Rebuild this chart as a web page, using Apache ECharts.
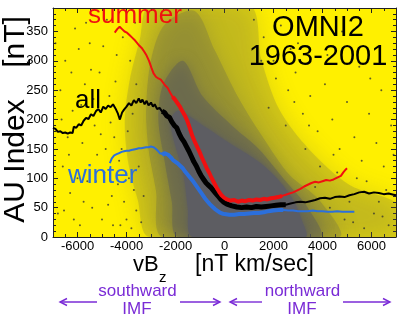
<!DOCTYPE html>
<html>
<head>
<meta charset="utf-8">
<script src="https://cdn.jsdelivr.net/npm/echarts@6/dist/echarts.min.js"></script>
<style>
  html, body { margin: 0; padding: 0; background: #fff; }
  #chart { width: 400px; height: 324px; }
</style>
</head>
<body>
<div id="chart"></div>
<script>
// AU index vs vBz
const summerLine = [[-4480,348],[-4380,354],[-4280,358],[-4180,354],[-4080,350],[-3980,348],[-3880,344],[-3780,340],[-3680,336],[-3580,331],[-3480,326],[-3380,322],[-3280,316],[-3180,309],[-3080,300],[-2980,288],[-2900,279],[-2800,273],[-2700,270],[-2600,268],[-2520,266],[-2420,258],[-2320,254],[-2220,246],[-2120,239],[-2020,234],[-1920,228],[-1820,222],[-1720,214],[-1620,207],[-1520,198],[-1420,186],[-1320,173],[-1220,163],[-1120,154],[-1020,145],[-920,135],[-820,126],[-720,117],[-620,109],[-520,100],[-420,92],[-320,84],[-220,77],[-120,71],[-20,67],[100,64],[250,62],[400,63],[550,60],[700,62],[850,61],[1000,63],[1150,62],[1300,64],[1450,63],[1600,65],[1750,64],[1900,66],[2050,67],[2200,68],[2350,70],[2500,72],[2650,74],[2800,76],[2950,79],[3100,82],[3250,86],[3400,89],[3550,92],[3700,94],[3850,93],[4000,95],[4150,97],[4300,96],[4450,98],[4600,101],[4750,104],[4850,110],[4950,115],[5000,117]];

const allLine = [[-7000,186],[-6900,184],[-6800,179],[-6700,180],[-6600,177],[-6500,178],[-6400,176],[-6300,178],[-6200,177],[-6150,188],[-6050,186],[-5950,192],[-5850,190],[-5750,198],[-5650,203],[-5550,201],[-5450,209],[-5350,206],[-5250,214],[-5150,218],[-5050,212],[-4950,222],[-4850,218],[-4750,224],[-4650,221],[-4550,226],[-4450,219],[-4350,210],[-4270,200],[-4180,212],[-4100,217],[-4000,222],[-3900,228],[-3800,224],[-3700,233],[-3600,228],[-3500,236],[-3420,229],[-3350,234],[-3260,226],[-3180,232],[-3100,224],[-3000,229],[-2920,222],[-2850,226],[-2750,218],[-2650,220],[-2550,214],[-2450,212],[-2350,206],[-2250,204],[-2150,196],[-2050,190],[-1950,186],[-1850,176],[-1750,168],[-1650,162],[-1550,154],[-1450,146],[-1350,137],[-1250,128],[-1150,121],[-1050,112],[-950,104],[-850,98],[-750,92],[-650,88],[-550,84],[-450,79],[-350,74],[-250,69],[-150,64],[-50,60],[100,56],[300,53],[500,51],[700,50],[900,51],[1100,50],[1300,52],[1500,51],[1700,52],[1900,53],[2100,54],[2300,55],[2500,55],[2700,57],[2900,59],[3100,60],[3300,59],[3500,61],[3700,63],[3900,66],[4100,67],[4300,65],[4500,68],[4700,69],[4900,68],[5100,71],[5300,73],[5500,76],[5700,77],[5900,74],[6100,76],[6300,75],[6500,73],[6700,74],[6900,72],[7000,71]];

const winterLine = [[-4680,126],[-4600,134],[-4500,139],[-4400,141],[-4300,143],[-4200,145],[-4100,146],[-4000,147],[-3900,147],[-3800,148],[-3700,149],[-3600,150],[-3500,151],[-3400,151],[-3300,152],[-3200,153],[-3100,153],[-3000,154],[-2900,153],[-2800,150],[-2700,146],[-2620,142],[-2540,139],[-2460,143],[-2380,141],[-2300,140],[-2200,136],[-2100,131],[-2000,128],[-1900,125],[-1800,121],[-1700,117],[-1600,111],[-1500,106],[-1400,101],[-1300,96],[-1200,90],[-1100,84],[-1000,78],[-900,72],[-800,66],[-700,61],[-600,56],[-500,52],[-400,48],[-300,45],[-200,42],[-100,40],[0,39],[200,38],[400,38],[600,39],[800,39],[1000,40],[1200,41],[1400,41],[1600,42],[1800,44],[2000,45],[2200,46],[2400,46],[2600,45],[2800,45],[3000,44],[3200,44],[3400,44],[3600,45],[3800,44],[4000,44],[4200,43],[4400,43],[4600,44],[4800,43],[5000,43],[5300,43]];

// outline of the point cloud, from the faint haze to the solid core
const cloudOuter = [[-3052,0],[-3541,63],[-3948,131],[-4070,200],[-3866,268],[-3460,336],[-3052,395],[1018,395],[1506,302],[2239,217],[3460,149],[5088,89],[7100,55],[7100,0]];
const cloudMiddle = [[-2520,0],[-2800,80],[-3100,149],[-3200,217],[-3000,302],[-2442,362],[-1221,385],[-407,319],[611,234],[1628,166],[2646,106],[3866,63],[4680,0]];
const cloudInner = [[-1900,0],[-2150,60],[-2450,130],[-2700,200],[-2500,260],[-1700,300],[-900,240],[300,190],[1400,150],[2500,95],[3400,50],[3900,0]];
const cloudCore = [[-1300,0],[-1500,50],[-1650,100],[-1900,140],[-2100,170],[-2200,200],[-1900,215],[-1400,205],[-700,185],[200,160],[1400,128],[2200,97],[2800,63],[3150,29],[3300,0]];

// loose single points on the yellow
const loosePoints = [[-6800,40],[-6600,120],[-6500,300],[-6300,75],[-6200,215],[-6100,355],[-5900,20],[-5800,160],[-5700,260],[-5600,95],[-5500,330],[-5400,50],[-5300,190],[-5200,140],[-5100,280],[-5000,30],[-4900,110],[-4800,370],[-4700,240],[-4600,70],[-4500,170],[-4400,310],[-4300,130],[-4250,20],[-6700,250],[-6400,170],[-6000,100],[-5650,365],[-5350,235],[-5050,175],[-4750,55],[-4450,265],[-6900,330],[-6150,30],[-5450,285],[-4950,325],[-4650,195],[-4350,90],[-5750,60],[-6350,140],[-4100,60],[-4000,30],[-3900,100],[-3800,15],[-3700,80],[-3600,45],[-3500,120],[-3400,25],[-3300,70],[-4200,150],[-3950,180],[-3750,210],[-3850,300],[-3650,365],[-3600,260],[-4150,340],[-6550,45],[-6250,280],[-5850,225],[-5250,95],[-4850,150],[-4550,20],[-6650,200],[-5950,320],[1200,370],[1600,340],[2000,300],[2300,360],[2600,250],[2900,280],[3200,210],[3500,240],[3800,180],[4100,260],[4400,200],[4700,150],[5000,230],[5300,170],[5600,130],[5900,210],[6200,160],[6500,120],[6800,190],[3000,330],[4200,310],[5500,290],[6400,250],[1800,220],[2500,190],[3300,150],[4600,110],[5800,95],[6600,80],[3900,120],[5100,60],[6100,40],[6700,20],[5700,15],[4900,30],[4300,50],[3700,85],[6300,60],[5400,100],[2100,270],[2700,320],[1500,300],[6900,140],[4800,350],[3600,370],[4450,140],[5250,25],[6450,35],[3450,190],[2850,230],[5950,270]];

const FONT = '"Liberation Sans", Arial, Helvetica, sans-serif';
const chart = echarts.init(document.getElementById('chart'));

const polygonSeries = (pts, fill, opacity, blur) => ({
  type: 'custom',
  data: [0],
  silent: true,
  clip: true,
  renderItem: (params, api) => ({
    type: 'polygon',
    shape: { points: pts.map((p) => api.coord(p)), smooth: 0.3 },
    style: { fill: fill, opacity: opacity, shadowBlur: blur, shadowColor: fill },
  }),
});

const lineSeries = (data, color, width) => ({
  type: 'line',
  data: data,
  showSymbol: false,
  silent: true,
  lineStyle: { color: color, width: width },
});

const between = (data, a, b) => data.filter((p) => p[0] >= a && p[0] <= b);

const axisBase = {
  type: 'value',
  axisLine: { show: true, onZero: false, lineStyle: { color: '#222', width: 1 } },
  axisTick: { show: true, inside: true, length: 5, lineStyle: { color: '#222' } },
  minorTick: { show: true, length: 3, lineStyle: { color: '#222' } },
  splitLine: { show: false },
  minorSplitLine: { show: false },
};

const text = (str, x, y, size, color, align, rot) => ({
  type: 'text',
  x: x,
  y: y,
  rotation: rot || 0,
  style: {
    text: str,
    font: size + 'px ' + FONT,
    fill: color,
    textAlign: align || 'left',
    textVerticalAlign: 'middle',
  },
  z: 100,
});

const PURPLE = '#7a2bd6';
const arrow = (x1, x2, y) => {
  const d = x2 > x1 ? -7 : 7;
  return [
    { type: 'line', shape: { x1: x1, y1: y, x2: x2, y2: y }, style: { stroke: PURPLE, lineWidth: 1.4 } },
    { type: 'polyline', shape: { points: [[x2 + d, y - 3.5], [x2, y], [x2 + d, y + 3.5]] }, style: { stroke: PURPLE, lineWidth: 1.4, fill: null } },
  ];
};

chart.setOption({
  animation: false,
  grid: { left: 53, right: 4, top: 8, bottom: 87, show: true, backgroundColor: '#fff000', borderWidth: 0 },
  xAxis: [
    Object.assign({}, axisBase, {
      min: -7000, max: 7000, splitNumber: 7, position: 'bottom',
      minorTick: Object.assign({}, axisBase.minorTick, { splitNumber: 4 }),
      axisLabel: { color: '#000', fontSize: 13, fontFamily: FONT, margin: 3, showMinLabel: false, showMaxLabel: false, formatter: (v) => String(v) },
    }),
    Object.assign({}, axisBase, {
      min: -7000, max: 7000, splitNumber: 7, position: 'top',
      minorTick: Object.assign({}, axisBase.minorTick, { splitNumber: 4 }),
      axisLabel: { show: false },
    }),
  ],
  yAxis: [
    Object.assign({}, axisBase, {
      min: 0, max: 390, interval: 50, position: 'left',
      minorTick: Object.assign({}, axisBase.minorTick, { splitNumber: 5 }),
      axisLabel: { color: '#000', fontSize: 13, fontFamily: FONT, margin: 5, showMaxLabel: false, formatter: (v) => String(v) },
    }),
    Object.assign({}, axisBase, {
      min: 0, max: 390, interval: 50, position: 'right',
      minorTick: Object.assign({}, axisBase.minorTick, { splitNumber: 5 }),
      axisLabel: { show: false },
    }),
  ],
  series: [
    polygonSeries(cloudOuter, '#5a5a50', 0.2, 25),
    polygonSeries(cloudMiddle, '#5a5a50', 0.25, 20),
    {
      type: 'scatter',
      data: loosePoints,
      symbolSize: 2,
      silent: true,
      itemStyle: { color: '#3a3a30' },
    },
    polygonSeries(cloudInner, '#5a5a58', 0.45, 14),
    polygonSeries(cloudCore, '#5d5d62', 1, 5),
    lineSeries(allLine, '#000', 2),
    lineSeries(between(allLine, -2600, 2600), '#000', 5),
    lineSeries(summerLine, '#f01010', 2),
    lineSeries(between(summerLine, -2200, 2400), '#f01010', 4),
    lineSeries(winterLine, '#2b6fdc', 2),
    lineSeries(between(winterLine, -2600, 2500), '#2b6fdc', 4),
  ],
  graphic: [
    text('summer', 88, 16, 26, '#f01010'),
    text('all', 75, 101, 26, '#000'),
    text('winter', 68, 176, 26, '#2b6fdc'),
    text('OMNI2', 318, 28, 29, '#000', 'center'),
    text('1963-2001', 318, 57, 29, '#000', 'center'),
    text('AU Index', 16, 161, 30, '#000', 'center', Math.PI / 2),
    text('[nT]', 16, 42, 30, '#000', 'center', Math.PI / 2),
    text('vB', 133, 265, 22, '#000'),
    text('z', 159, 278, 15, '#000'),
    text('[nT km/sec]', 195, 265, 23, '#000'),
    text('southward', 137.5, 291, 17, PURPLE, 'center'),
    text('IMF', 137, 309, 17, PURPLE, 'center'),
    text('northward', 302.5, 291, 17, PURPLE, 'center'),
    text('IMF', 302, 309, 17, PURPLE, 'center'),
  ].concat(arrow(97, 60, 302), arrow(180, 220, 302), arrow(262, 230, 302), arrow(343, 390, 302)),
});
</script>
</body>
</html>
